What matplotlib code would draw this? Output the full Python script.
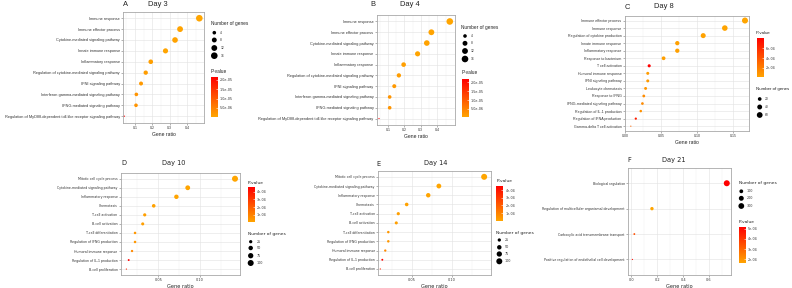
import matplotlib
matplotlib.use('Agg')
import matplotlib.pyplot as plt
import numpy as np
from matplotlib.colors import LinearSegmentedColormap, Normalize
from matplotlib.cm import ScalarMappable

W, H = 792, 288

# ---------------- data ----------------
day3_terms = ["Immune response", "Immune effector process", "Cytokine-mediated signaling pathway",
              "Innate immune response", "Inflammatory response",
              "Regulation of cytokine-mediated signaling pathway", "IFNI signaling pathway",
              "Interferon-gamma-mediated signaling pathway", "IFNG-mediated signaling pathway",
              "Regulation of MyD88-dependent toll-like receptor signaling pathway"]
day3_ratio = [0.471, 0.360, 0.331, 0.276, 0.191, 0.162, 0.135, 0.108, 0.106, 0.039]
day3_count = [16, 12, 11, 9, 7, 6, 5, 4, 4, 1]
day3_pval = [3.4e-7, 6e-7, 8e-7, 5e-7, 1.2e-6, 1.5e-6, 2e-6, 2.5e-6, 2.5e-6, 2.16e-5]

day4_terms = day3_terms
day4_ratio = [0.476, 0.364, 0.336, 0.280, 0.195, 0.166, 0.138, 0.110, 0.110, 0.045]
day4_count = [16, 12, 11, 9, 7, 6, 5, 4, 4, 1]
day4_pval = [3.4e-7, 6e-7, 8e-7, 5e-7, 1.2e-6, 1.5e-6, 2e-6, 2.5e-6, 2.5e-6, 2.16e-5]

day8_terms = ["Immune effector process", "Immune response", "Regulation of cytokine production",
              "Innate immune response", "Inflammatory response", "Response to bacterium",
              "T cell activation", "Humoral immune response", "IFNI signaling pathway",
              "Leukocyte chemotaxis", "Response to IFNG", "IFNG-mediated signaling pathway",
              "Regulation of IL-1 production", "Regulation of IFNA production",
              "Gamma-delta T cell activation"]
day8_ratio = [0.166, 0.138, 0.108, 0.072, 0.072, 0.053, 0.033, 0.031, 0.031, 0.028,
              0.0255, 0.0236, 0.0213, 0.0144, 0.0075]
day8_count = [66, 55, 43, 29, 29, 21, 13, 12, 12, 11, 10, 9, 8, 6, 3]
day8_pval = [5e-6, 1e-5, 2e-5, 3e-5, 3e-5, 4e-5, 8.2e-4, 5e-5, 6e-5, 8e-5,
             1.3e-4, 1.4e-4, 1e-4, 6.8e-4, 3.2e-4]

day10_terms = ["Mitotic cell cycle process", "Cytokine-mediated signaling pathway",
               "Inflammatory response", "Chemotaxis", "T-cell activation", "B-cell activation",
               "T-cell differentiation", "Regulation of IFNG production",
               "Humoral immune response", "Regulation of IL-1 production", "B-cell proliferation"]
day10_ratio = [0.142, 0.0853, 0.0717, 0.0445, 0.0337, 0.0313, 0.0221, 0.0221, 0.0185, 0.0145, 0.0117]
day10_count = [100, 60, 50, 31, 24, 22, 15, 15, 13, 10, 8]
day10_pval = [1e-6, 2e-6, 3e-6, 1e-5, 2e-5, 2e-5, 4e-5, 4e-5, 8e-5, 4.57e-4, 3.6e-4]

day14_terms = day10_terms
day14_ratio = [0.1408, 0.0841, 0.0708, 0.0438, 0.0333, 0.0308, 0.0208, 0.0208, 0.0170, 0.0133, 0.0108]
day14_count = [100, 60, 50, 31, 24, 22, 15, 15, 13, 10, 8]
day14_pval = [1e-6, 2e-6, 3e-6, 1e-5, 2e-5, 2e-5, 4e-5, 4e-5, 8e-5, 4.56e-4, 3.6e-4]

day21_terms = ["Biological regulation", "Regulation of multicellular organismal development",
               "Carboxylic acid transmembrane transport",
               "Positive regulation of endothelial cell development"]
day21_ratio = [0.737, 0.159, 0.023, 0.008]
day21_count = [330, 72, 10, 4]
day21_pval = [5.2e-4, 1.6e-4, 3.5e-4, 5.0e-4]

# tick / legend labels
ab_xticks = [0.1, 0.2, 0.3, 0.4]
ab_xlabels = ["0.1", "0.2", "0.3", "0.4"]
ab_size_breaks = [4, 8, 12, 16]
ab_p_ticks = [5e-6, 1e-5, 1.5e-5, 2e-5]
ab_p_labels = ["5.0e-06", "1.0e-05", "1.5e-05", "2.0e-05"]

c_xticks = [0.0, 0.05, 0.10, 0.15]
c_xlabels = ["0.00", "0.05", "0.10", "0.15"]
c_size_breaks = [20, 40, 60]
c_p_ticks = [2e-4, 4e-4, 6e-4]
c_p_labels = ["2e-04", "4e-04", "6e-04"]

de_xticks = [0.05, 0.10]
de_xlabels = ["0.05", "0.10"]
de_size_breaks = [25, 50, 75, 100]
de_p_ticks = [1e-4, 2e-4, 3e-4, 4e-4]
de_p_labels = ["1e-04", "2e-04", "3e-04", "4e-04"]

f_xticks = [0.0, 0.2, 0.4, 0.6]
f_xlabels = ["0.0", "0.2", "0.4", "0.6"]
f_size_breaks = [100, 200, 300]
f_p_ticks = [2e-4, 3e-4, 4e-4, 5e-4]
f_p_labels = ["2e-04", "3e-04", "4e-04", "5e-04"]

# ---------------- drawing ----------------
cmap = LinearSegmentedColormap.from_list('or', ['#FFA500', '#FF0000'])
fig = plt.figure(figsize=(W / 100, H / 100), dpi=100)

overlay = fig.add_axes([0, 0, 1, 1], zorder=5)
overlay.set_xlim(0, W)
overlay.set_ylim(H, 0)
overlay.axis('off')
overlay.patch.set_alpha(0)


def px_axes(x0, y0, x1, y1):
    return fig.add_axes([x0 / W, 1 - y1 / H, (x1 - x0) / W, (y1 - y0) / H])


def size_s(v, vmin, vmax, dmin=1.2, dmax=6.4):
    v = np.asarray(v, dtype=float)
    d = dmin + (dmax - dmin) * np.sqrt(np.clip((v - vmin) / (vmax - vmin), 0, 1))
    return (d * 0.72) ** 2


def panel(box, terms, ratio, count, pval, xlim, xt, xl, minor, fam, lab_fs, dmax,
          letter, title, let_xy, title_xy, title_fs,
          size_breaks, size_pos, p_ticks, p_labels, p_pos, cb_box, leg_fs=3.4):
    ax = px_axes(*box)
    n = len(terms)
    y = np.arange(n)[::-1]
    cmin, cmax = min(count), max(count)
    norm = Normalize(min(pval), max(pval))
    ax.scatter(ratio, y, s=size_s(count, cmin, cmax, dmax=dmax), c=pval, cmap=cmap,
               norm=norm, linewidths=0, zorder=3)
    ax.set_yticks(y)
    ax.set_yticklabels(terms, fontsize=lab_fs, family=fam, color='#333333')
    ax.set_ylim(-0.6, n - 1 + 0.6)
    ax.set_xlim(*xlim)
    ax.set_xticks(xt)
    ax.set_xticklabels(xl, fontsize=2.5, family=fam, color='#333333')
    ax.set_xticks(minor, minor=True)
    ax.grid(which='major', color='#E4E4E4', lw=0.45)
    ax.grid(which='minor', axis='x', color='#EFEFEF', lw=0.3)
    ax.set_axisbelow(True)
    ax.tick_params(which='minor', length=0)
    ax.tick_params(which='major', length=1.3, width=0.4, color='#777777', pad=1)
    for sp in ax.spines.values():
        sp.set_color('#A8A8A8')
        sp.set_linewidth(0.6)
    ax.set_xlabel('Gene ratio', fontsize=3.6, family=fam, labelpad=1.5, color='#222222')

    overlay.text(let_xy[0], let_xy[1], letter, fontsize=title_fs, family=fam,
                 ha='left', va='center', color='#222222')
    overlay.text(title_xy[0], title_xy[1], title, fontsize=title_fs, family=fam,
                 ha='center', va='center', color='#222222')

    # size legend
    tx, ty, cx, lx, ys = size_pos
    overlay.text(tx, ty, 'Number of genes', fontsize=leg_fs, family=fam, ha='left',
                 va='center', color='#222222')
    overlay.scatter([cx] * len(size_breaks), ys, s=size_s(size_breaks, cmin, cmax, dmax=dmax),
                    c='black', linewidths=0)
    for b, yy in zip(size_breaks, ys):
        overlay.text(lx, yy, str(b), fontsize=2.4, family=fam, ha='left', va='center',
                     color='#333333')

    # p-value colorbar
    overlay.text(p_pos[0], p_pos[1], 'P-value', fontsize=leg_fs, family=fam, ha='left',
                 va='center', color='#222222')
    cax = px_axes(*cb_box)
    cb = fig.colorbar(ScalarMappable(norm=norm, cmap=cmap), cax=cax)
    cb.outline.set_visible(False)
    cb.set_ticks(p_ticks)
    cb.set_ticklabels(p_labels)
    cb.ax.tick_params(length=1.2, width=0.4, color='white', direction='in',
                      labelsize=2.4, pad=1.5, labelcolor='#333333')
    return ax


LS = 'Liberation Sans'
DV = 'DejaVu Sans'

panel((123, 11.7, 204, 122.7), day3_terms, day3_ratio, day3_count, day3_pval,
      (0.031, 0.498), ab_xticks, ab_xlabels, [0.05, 0.15, 0.25, 0.35, 0.45], LS, 2.75, 6.6,
      'A', 'Day 3', (123.3, 4.7), (157.5, 4.7), 5.4,
      ab_size_breaks, (210.7, 24, 214.3, 220.3, [32.7, 40, 48, 55.7]),
      ab_p_ticks, ab_p_labels, (210.7, 71.3), (211, 77, 218, 116.7))

panel((376.7, 15, 454.7, 125), day4_terms, day4_ratio, day4_count, day4_pval,
      (0.031, 0.506), ab_xticks, ab_xlabels, [0.05, 0.15, 0.25, 0.35, 0.45], LS, 2.75, 6.6,
      'B', 'Day 4', (370, 4.3), (410.2, 4.3), 5.4,
      ab_size_breaks, (461.3, 28, 465, 470.7, [36, 43.3, 51, 59]),
      ab_p_ticks, ab_p_labels, (461.3, 72.3), (461.7, 79.3, 469, 117.3))

panel((624.7, 16, 749.3, 130.7), day8_terms, day8_ratio, day8_count, day8_pval,
      (-0.001, 0.172), c_xticks, c_xlabels, [0.025, 0.075, 0.125], LS, 2.6, 6.0,
      'C', 'Day 8', (624.7, 7.3), (664, 6.7), 5.4,
      c_size_breaks, (755.8, 89.3, 759.7, 765.3, [99, 107, 115]),
      c_p_ticks, c_p_labels, (755.8, 33.3), (756.7, 37.7, 764, 77.3), leg_fs=3.2)

panel((120.7, 173.3, 240, 274.5), day10_terms, day10_ratio, day10_count, day10_pval,
      (0.0049, 0.148), de_xticks, de_xlabels, [0.025, 0.075, 0.125], DV, 2.3, 6.0,
      'D', 'Day 10', (121.7, 163), (174, 163), 4.8,
      de_size_breaks, (248, 234, 250.7, 256.7, [241.7, 248, 255.7, 263]),
      de_p_ticks, de_p_labels, (248, 183), (248, 187.3, 255, 222.3), leg_fs=3.2)

panel((378, 171.3, 490.7, 274.5), day14_terms, day14_ratio, day14_count, day14_pval,
      (0.0079, 0.149), de_xticks, de_xlabels, [0.025, 0.075, 0.125], DV, 2.3, 6.0,
      'E', 'Day 14', (376.3, 164), (435.5, 163.3), 4.8,
      de_size_breaks, (496.3, 233.3, 499.3, 505, [240, 247.3, 254, 261.3]),
      de_p_ticks, de_p_labels, (496.3, 180.7), (496.3, 185.7, 503.3, 220.7), leg_fs=3.2)

panel((628, 168, 731.3, 274.7), day21_terms, day21_ratio, day21_count, day21_pval,
      (-0.026, 0.772), f_xticks, f_xlabels, [0.1, 0.3, 0.5, 0.7], DV, 2.3, 6.0,
      'F', 'Day 21', (627, 159.7), (674, 159.7), 4.8,
      f_size_breaks, (738.7, 183, 741.3, 746.3, [191.3, 198.3, 206]),
      f_p_ticks, f_p_labels, (738.7, 221.7), (739, 226.7, 746, 263.3), leg_fs=3.2)

fig.savefig('out.png', dpi=100)
